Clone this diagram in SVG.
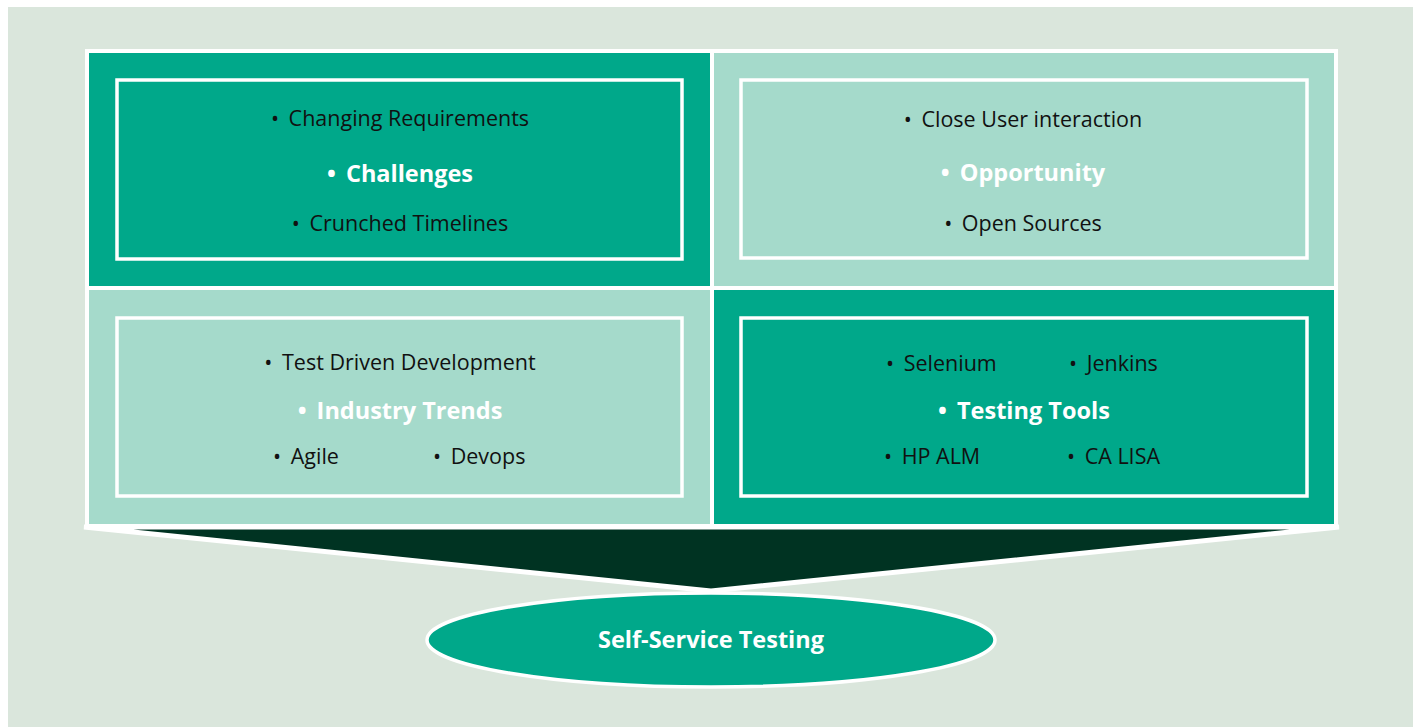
<svg xmlns="http://www.w3.org/2000/svg" width="1418" height="727" viewBox="0 0 1418 727">
<style>
.dark{fill:#00A88A}
.light{fill:#A5DACB}
.inner{fill:none;stroke:#ffffff;stroke-width:3.5}
text{font-family:"Open Sans","Noto Sans",sans-serif}
.t{font-size:21.5px;fill:#111111}
.h{font-size:23.5px;font-weight:bold;fill:#ffffff}
.m{text-anchor:middle}
</style>
<rect x="0" y="0" width="1418" height="727" fill="#ffffff"/>
<rect x="8" y="7" width="1405" height="720" fill="#DAE6DC"/>
<g id="connectors">
<polygon points="84,527 1339,527 711,591" fill="#003322" stroke="#ffffff" stroke-width="5" stroke-linejoin="miter"/>
<rect x="85" y="49" width="1253" height="479" fill="#ffffff"/>
</g>
<g id="challenges">
<rect class="dark" x="89" y="53" width="621" height="233"/>
<rect class="inner" x="117" y="80" width="565" height="179"/>
<text class="t m" x="400" y="126">•<tspan dx="4"> Changing Requirements</tspan></text>
<text class="h m" x="400" y="182">•<tspan dx="4"> Challenges</tspan></text>
<text class="t m" x="400" y="231">•<tspan dx="4"> Crunched Timelines</tspan></text>
</g>
<g id="opportunity">
<rect class="light" x="714" y="53" width="620" height="233"/>
<rect class="inner" x="741" y="80" width="566" height="178"/>
<text class="t m" x="1023" y="127">•<tspan dx="4"> Close User interaction</tspan></text>
<text class="h m" x="1023" y="181">•<tspan dx="4"> Opportunity</tspan></text>
<text class="t m" x="1023" y="231">•<tspan dx="4"> Open Sources</tspan></text>
</g>
<g id="trends">
<rect class="light" x="89" y="290" width="621" height="234"/>
<rect class="inner" x="117" y="318" width="565" height="178"/>
<text class="t m" x="400" y="370">•<tspan dx="4"> Test Driven Development</tspan></text>
<text class="h m" x="400" y="419">•<tspan dx="4"> Industry Trends</tspan></text>
<text class="t" x="273" y="464">•<tspan dx="4"> Agile</tspan></text>
<text class="t" x="433" y="464">•<tspan dx="4"> Devops</tspan></text>
</g>
<g id="tools">
<rect class="dark" x="714" y="290" width="620" height="234"/>
<rect class="inner" x="741" y="318" width="566" height="178"/>
<text class="t" x="886" y="371">•<tspan dx="4"> Selenium</tspan></text>
<text class="t" x="1069" y="371">•<tspan dx="4"> Jenkins</tspan></text>
<text class="h m" x="1024" y="419">•<tspan dx="4"> Testing Tools</tspan></text>
<text class="t" x="884" y="464">•<tspan dx="4"> HP ALM</tspan></text>
<text class="t" x="1067" y="464">•<tspan dx="4"> CA LISA</tspan></text>
</g>
<g id="self-service">
<ellipse cx="711" cy="640" rx="284" ry="47" fill="#00A88A" stroke="#ffffff" stroke-width="3.5"/>
<text class="h m" x="711" y="648">Self-Service Testing</text>
</g>
</svg>
